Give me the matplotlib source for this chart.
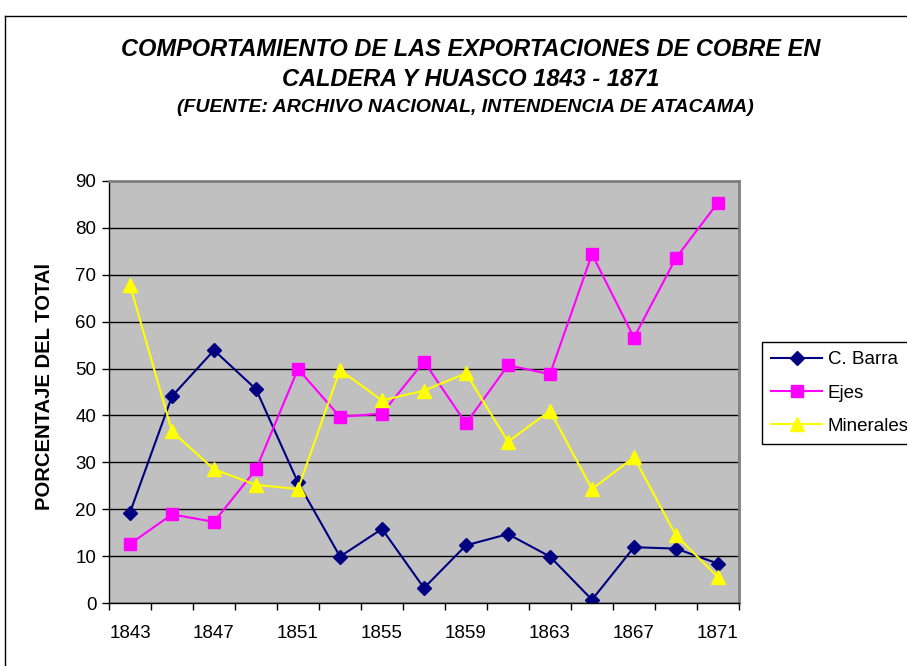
import numpy as np
import matplotlib
matplotlib.use('Agg')
import matplotlib.pyplot as plt
from matplotlib.lines import Line2D

plt.rcParams['font.family'] = ['Liberation Sans', 'DejaVu Sans']

years = [1843, 1845, 1847, 1849, 1851, 1853, 1855, 1857, 1859, 1861, 1863, 1865, 1867, 1869, 1871]
c_barra = [19.3, 44.1, 53.9, 45.6, 25.7, 9.9, 15.8, 3.2, 12.3, 14.7, 9.9, 0.7, 11.9, 11.6, 8.4]
ejes = [12.6, 18.9, 17.3, 28.5, 49.9, 39.7, 40.4, 51.5, 38.3, 50.7, 48.8, 74.4, 56.6, 73.6, 85.4]
minerales = [67.8, 36.6, 28.5, 25.2, 24.3, 49.7, 43.2, 45.3, 49.0, 34.4, 41.0, 24.3, 31.1, 14.4, 5.5]

W, H = 907, 666
fig = plt.figure(figsize=(W / 100, H / 100), dpi=100)

# outer chart border (only left and top visible)
fig.add_artist(Line2D([5 / W, 5 / W], [0, 1 - 16 / H], color='black', lw=1, transform=fig.transFigure))
fig.add_artist(Line2D([5 / W, 1], [1 - 16 / H, 1 - 16 / H], color='black', lw=1, transform=fig.transFigure))

ax = fig.add_axes([109 / W, (H - 603) / H, 630 / W, (603 - 181) / H])
ax.set_facecolor('#C0C0C0')

x = np.arange(len(years))
ax.plot(x, c_barra, color='#000080', marker='D', ms=7.5, lw=1.5, label='C. Barra')
ax.plot(x, ejes, color='#FF00FF', marker='s', ms=8, lw=1.5, label='Ejes')
ax.plot(x, minerales, color='#FFFF00', marker='^', ms=9.5, lw=1.5, label='Minerales')

ax.set_xlim(-0.5, len(years) - 0.5)
ax.set_ylim(0, 90)
ax.set_yticks(range(0, 91, 10))
ax.yaxis.grid(True, color='black', lw=1)
ax.set_axisbelow(True)

ax.set_xticks(x[::2])
ax.set_xticklabels([str(y) for y in years[::2]])
ax.set_xticks(np.arange(-0.5, len(years), 1), minor=True)
ax.tick_params(axis='x', which='major', length=0, pad=16, labelsize=13.5)
ax.tick_params(axis='x', which='minor', length=5, width=1, color='black')
ax.tick_params(axis='y', length=5, width=1, pad=4, labelsize=13.5, color='black')

for s in ['top', 'right']:
    ax.spines[s].set_color('#808080')
    ax.spines[s].set_linewidth(2)
for s in ['left', 'bottom']:
    ax.spines[s].set_color('black')
    ax.spines[s].set_linewidth(1)

fig.text(45 / W, 1 - 387 / H, 'PORCENTAJE DEL TOTAl', rotation=90, ha='center', va='center',
         fontsize=14.6, fontweight='bold')

fig.text(471 / W, 1 - 50 / H, 'COMPORTAMIENTO DE LAS EXPORTACIONES DE COBRE EN',
         ha='center', va='center', fontsize=17, fontweight='bold', style='italic')
fig.text(471 / W, 1 - 80 / H, 'CALDERA Y HUASCO 1843 - 1871',
         ha='center', va='center', fontsize=17, fontweight='bold', style='italic')
fig.text(465 / W, 1 - 107 / H, '(FUENTE: ARCHIVO NACIONAL, INTENDENCIA DE ATACAMA)',
         ha='center', va='center', fontsize=14, fontweight='bold', style='italic')

leg = ax.legend(loc='upper left', bbox_to_anchor=(762 / W, 1 - 342 / H), bbox_transform=fig.transFigure,
                fontsize=13.5, frameon=True, fancybox=False, edgecolor='black', framealpha=1,
                handlelength=2.7, handletextpad=0.3, labelspacing=0.85, borderpad=0.5, borderaxespad=0)
leg.get_frame().set_linewidth(1)

fig.savefig('out.png', dpi=100)
